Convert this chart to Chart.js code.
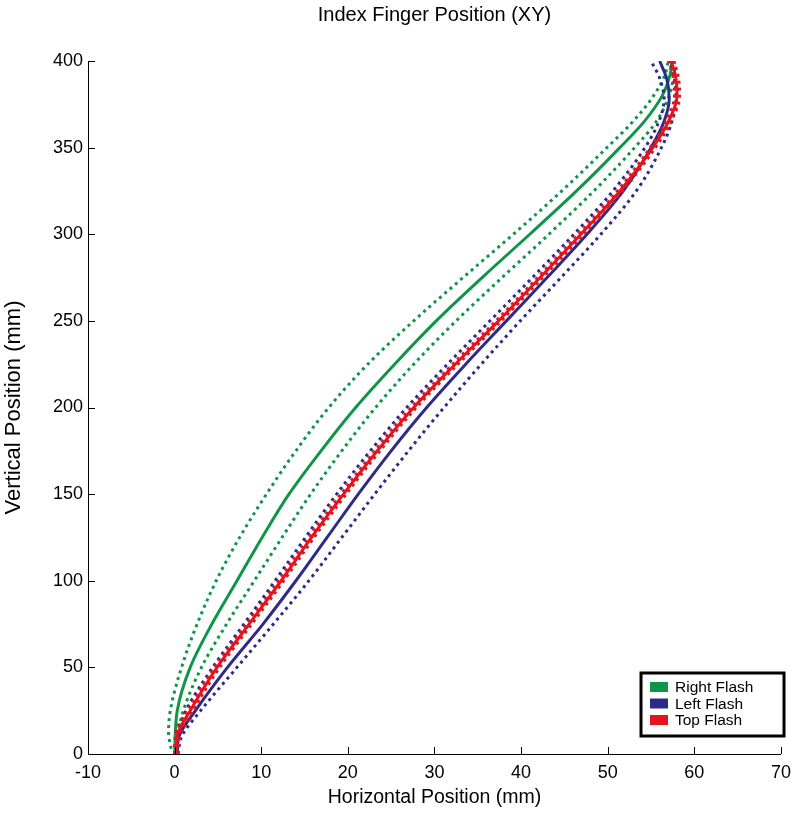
<!DOCTYPE html>
<html>
<head>
<meta charset="utf-8">
<script src="https://cdn.jsdelivr.net/npm/chart.js@4.4.1/dist/chart.umd.min.js"></script>
<style>
  body { margin: 0; background: #fff; }
  #wrap { width: 799px; height: 839px; }
</style>
</head>
<body>
<div id="wrap"><canvas id="fingerChart" width="799" height="839"></canvas></div>
<script>
// values, [x mm, y mm]
const rightMean = [[0,0],[0.3,25],[1.8,50],[4.3,75],[7.2,100],[10.1,125],[13.2,150],[16.9,175],[20.9,200],[25.4,225],[30.2,250],[35.5,275],[41,300],[46.4,325],[51.4,350],[54.2,365],[56.3,380],[57.2,392],[57.4,400]];
const rightUpper = [[-0.4,3],[-0.7,12],[-0.5,25],[0.8,50],[2.6,75],[4.8,100],[7.5,125],[10.6,150],[14,175],[17.8,200],[22.3,225],[27.6,250],[33.3,275],[39.1,300],[44.7,325],[49.9,350],[52.9,365],[55.3,380],[56.6,392],[57,400]];
const rightLower = [[0.3,3],[0.4,12],[1,25],[3.1,50],[6,75],[9.2,100],[12.4,125],[15.7,150],[19.3,175],[23.2,200],[27.6,225],[32.5,250],[37.8,275],[43.2,300],[48.4,325],[53.1,350],[55.6,365],[57.1,380],[57.6,392],[57.7,400]];

const leftMean = [[0.3,0],[0.5,10],[2.4,25],[6.1,50],[10.2,75],[14,100],[17.6,125],[21.2,150],[25,175],[29.1,200],[33.6,225],[38.3,250],[43,275],[47.6,300],[51.8,325],[55,350],[56.5,365],[57.1,378],[56.8,390],[56,400]];
const leftUpper = [[0,0],[0.2,10],[1.3,25],[4.4,50],[8,75],[11.6,100],[15.1,125],[18.7,150],[22.6,175],[26.8,200],[31.5,225],[36.4,250],[41.3,275],[46.1,300],[50.6,325],[54.3,350],[55.9,365],[56.5,378],[56,390],[55,400]];
const leftLower = [[0.4,0],[0.8,10],[3,25],[7.2,50],[11.4,75],[15.5,100],[19.3,125],[23.1,150],[27,175],[31.1,200],[35.4,225],[39.9,250],[44.6,275],[49.2,300],[53.3,325],[56.2,350],[57.4,365],[57.9,380],[57.6,392],[57.1,400]];

const topMean = [[0.2,0],[0.4,12],[1.8,25],[4.9,50],[8.6,75],[12.3,100],[15.8,125],[19.5,150],[23.4,175],[27.6,200],[32.4,225],[37.4,250],[42.2,275],[46.9,300],[51.4,325],[55.2,350],[57,365],[58,380],[57.8,392],[57.3,400]];
const topUpper = [[0,0],[0.1,12],[1.5,25],[4.6,50],[8.3,75],[12,100],[15.5,125],[19.2,150],[23.1,175],[27.3,200],[32.1,225],[37.1,250],[41.9,275],[46.6,300],[51.1,325],[54.9,350],[56.7,365],[57.7,380],[57.5,392],[57,400]];
const topLower = [[0.4,0],[0.7,12],[2.1,25],[5.2,50],[8.9,75],[12.6,100],[16.1,125],[19.8,150],[23.7,175],[27.9,200],[32.7,225],[37.7,250],[42.5,275],[47.2,300],[51.7,325],[55.5,350],[57.3,365],[58.3,380],[58.1,392],[57.6,400]];

const seriesNames = ['Right Flash', 'Left Flash', 'Top Flash'];
const seriesColors = ['#0f9548', '#2d2a88', '#e3141e'];

const xTicks = [-10, 0, 10, 20, 30, 40, 50, 60, 70];
const yTicks = [0, 50, 100, 150, 200, 250, 300, 350, 400];

const pts = arr => arr.map(p => ({ x: p[0], y: p[1] }));

function line(data, color, dotted, order) {
  return {
    data: pts(data),
    borderColor: color,
    borderWidth: 3,
    borderDash: dotted ? [3, 4] : [],
    borderCapStyle: 'butt',
    pointRadius: 0,
    cubicInterpolationMode: 'monotone',
    fill: false,
    order: order
  };
}

const font = 'Liberation Sans, Arial, sans-serif';

const extras = {
  id: 'extras',
  afterDraw(c) {
    const ctx = c.ctx;
    const xs = c.scales.x, ys = c.scales.y;
    const a = c.chartArea;
    ctx.save();
    // inward tick marks
    ctx.strokeStyle = '#000';
    ctx.lineWidth = 1;
    ctx.beginPath();
    xTicks.forEach(v => {
      const px = Math.round(xs.getPixelForValue(v)) + 0.5;
      ctx.moveTo(px, a.bottom);
      ctx.lineTo(px, a.bottom - 7);
    });
    yTicks.forEach(v => {
      const py = Math.round(ys.getPixelForValue(v)) + 0.5;
      ctx.moveTo(a.left, py);
      ctx.lineTo(a.left + 7, py);
    });
    ctx.stroke();

    // title over the plot area
    ctx.fillStyle = '#000';
    ctx.font = '20px ' + font;
    ctx.textAlign = 'center';
    ctx.textBaseline = 'middle';
    ctx.fillText('Index Finger Position (XY)', (a.left + a.right) / 2, 15);

    // legend box
    const bx = 641, by = 673, bw = 143, bh = 63;
    ctx.fillStyle = '#fff';
    ctx.fillRect(bx, by, bw, bh);
    ctx.lineWidth = 3;
    ctx.strokeStyle = '#000';
    ctx.strokeRect(bx, by, bw, bh);
    ctx.font = '15.5px ' + font;
    ctx.textAlign = 'left';
    seriesNames.forEach((n, i) => {
      const cy = by + 14 + i * 16.5;
      ctx.fillStyle = seriesColors[i];
      ctx.fillRect(bx + 9, cy - 5, 18, 10);
      ctx.fillStyle = '#000';
      ctx.fillText(n, bx + 34, cy + 1);
    });
    ctx.restore();
  }
};

new Chart(document.getElementById('fingerChart'), {
  type: 'line',
  data: {
    datasets: [
      line(rightUpper, seriesColors[0], true, 9),
      line(rightLower, seriesColors[0], true, 8),
      line(rightMean, seriesColors[0], false, 7),
      line(leftUpper, seriesColors[1], true, 6),
      line(leftLower, seriesColors[1], true, 5),
      line(leftMean, seriesColors[1], false, 4),
      line(topUpper, seriesColors[2], true, 3),
      line(topLower, seriesColors[2], true, 2),
      line(topMean, seriesColors[2], false, 1)
    ]
  },
  options: {
    responsive: false,
    animation: false,
    indexAxis: 'y',
    layout: { padding: { top: 61, right: 15, left: 0, bottom: 0 } },
    plugins: {
      legend: { display: false },
      title: { display: false },
      tooltip: { enabled: false }
    },
    scales: {
      x: {
        type: 'linear',
        position: 'bottom',
        min: -10,
        max: 70,
        grid: { display: false, drawTicks: false },
        border: { display: true, color: '#000', width: 1 },
        ticks: { stepSize: 10, color: '#000', font: { family: font, size: 18 }, padding: 8, maxRotation: 0 },
        title: { display: true, text: 'Horizontal Position (mm)', color: '#000', font: { family: font, size: 19.5 }, padding: { top: 0, bottom: 30 } },
        afterFit: s => { s.height = 85; }
      },
      y: {
        type: 'linear',
        position: 'left',
        min: 0,
        max: 400,
        grid: { display: false, drawTicks: false },
        border: { display: true, color: '#000', width: 1 },
        ticks: { stepSize: 50, color: '#000', font: { family: font, size: 18 }, padding: 5 },
        title: { display: true, text: 'Vertical Position (mm)', color: '#000', font: { family: font, size: 22 }, padding: { top: 1, bottom: 0 } },
        afterFit: s => { s.width = 88; }
      }
    }
  },
  plugins: [extras]
});
</script>
</body>
</html>
